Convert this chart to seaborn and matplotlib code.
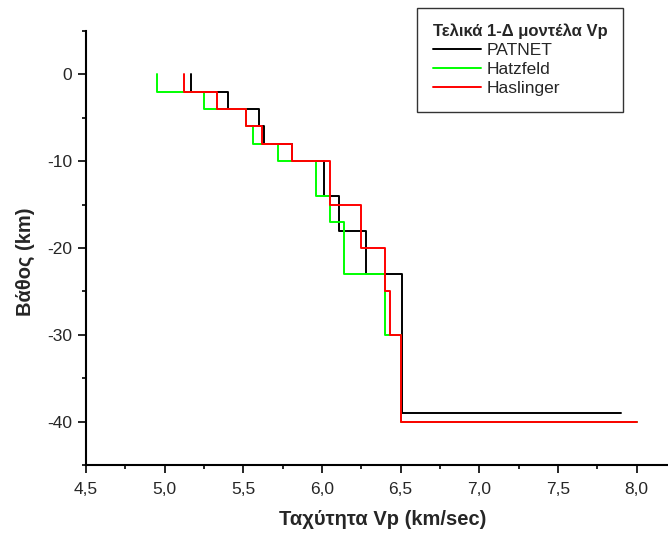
import numpy as np
import pandas as pd
import seaborn as sns
import matplotlib.pyplot as plt
from matplotlib.ticker import MultipleLocator

sns.set_theme(style='ticks')
plt.rcParams['font.family'] = ['Liberation Sans', 'DejaVu Sans']
plt.rcParams['axes.unicode_minus'] = False

# Τελικά 1-Δ μοντέλα Vp: ταχύτητα στρώματος και βάθος οροφής (km)
patnet_vp = [5.17, 5.40, 5.60, 5.63, 5.81, 6.01, 6.11, 6.28, 6.51, 7.90]
patnet_top = [0, 2, 4, 6, 8, 10, 14, 18, 23, 39]

hatzfeld_vp = [4.95, 5.25, 5.52, 5.56, 5.72, 5.96, 6.05, 6.14, 6.40, 6.50, 8.00]
hatzfeld_top = [0, 2, 4, 6, 8, 10, 14, 17, 23, 30, 40]

haslinger_vp = [5.12, 5.33, 5.52, 5.62, 5.81, 6.05, 6.25, 6.40, 6.43, 6.50, 8.00]
haslinger_top = [0, 2, 4, 6, 8, 10, 15, 20, 25, 30, 40]

models = ['PATNET', 'Hatzfeld', 'Haslinger']
colors = ['black', '#00ff00', '#ff0000']

x_ticks = [4.5, 5.0, 5.5, 6.0, 6.5, 7.0, 7.5, 8.0]
x_tick_labels = ['4,5', '5,0', '5,5', '6,0', '6,5', '7,0', '7,5', '8,0']
y_ticks = [0, -10, -20, -30, -40]


def step_profile(name, vp, top):
    # κάθε στρώμα: κατακόρυφο τμήμα από την οροφή ως την οροφή του επόμενου
    xs, ys = [], []
    for i in range(len(vp) - 1):
        xs += [vp[i], vp[i]]
        ys += [-top[i], -top[i + 1]]
    xs.append(vp[-1])
    ys.append(-top[-1])
    return pd.DataFrame({'vp': xs, 'depth': ys, 'model': name,
                         'order': np.arange(len(xs))})


df = pd.concat([
    step_profile('PATNET', patnet_vp, patnet_top),
    step_profile('Hatzfeld', hatzfeld_vp, hatzfeld_top),
    step_profile('Haslinger', haslinger_vp, haslinger_top),
], ignore_index=True)

fig = plt.figure(figsize=(6.68, 5.34), dpi=100)
ax = fig.add_axes([0.1287, 0.1286, 0.8713, 0.8139])

sns.lineplot(data=df, x='vp', y='depth', hue='model', hue_order=models,
             palette=colors, sort=False, estimator=None, units='model',
             linewidth=1.4, ax=ax)

ax.set_xlim(4.5, 8.2)
ax.set_ylim(-45, 5)
ax.set_xticks(x_ticks)
ax.set_xticklabels(x_tick_labels)
ax.set_yticks(y_ticks)
ax.xaxis.set_minor_locator(MultipleLocator(0.25))
ax.yaxis.set_minor_locator(MultipleLocator(5))
ax.tick_params(which='major', direction='out', length=6, width=1.2,
               labelsize=12.5, pad=4, color='black')
ax.tick_params(axis='x', which='major', pad=6)
ax.tick_params(which='minor', direction='out', length=3, width=1.2,
               color='black')
sns.despine(ax=ax)
for s in ['left', 'bottom']:
    ax.spines[s].set_linewidth(1.5)
    ax.spines[s].set_color('black')

ax.set_xlabel('Ταχύτητα Vp (km/sec)', fontsize=14.5, fontweight='bold')
ax.set_ylabel('Βάθος (km)', fontsize=14.5, fontweight='bold')
ax.xaxis.set_label_coords(0.509, -0.103)
ax.yaxis.set_label_coords(-0.088, 0.468)

leg = ax.legend(title='Τελικά 1-Δ μοντέλα Vp', loc='upper right',
                bbox_to_anchor=(0.9326, 0.985), bbox_transform=fig.transFigure,
                borderaxespad=0, fontsize=12.5, title_fontsize=12,
                handlelength=2.8, handletextpad=0.3, labelspacing=0.22,
                fancybox=False, frameon=True, borderpad=0.9)
leg.get_title().set_fontweight('bold')
leg._legend_box.align = 'left'
leg.get_frame().set_edgecolor('black')
leg.get_frame().set_linewidth(1.0)
for line in leg.get_lines():
    line.set_linewidth(1.4)

fig.savefig('out.png', dpi=100)
